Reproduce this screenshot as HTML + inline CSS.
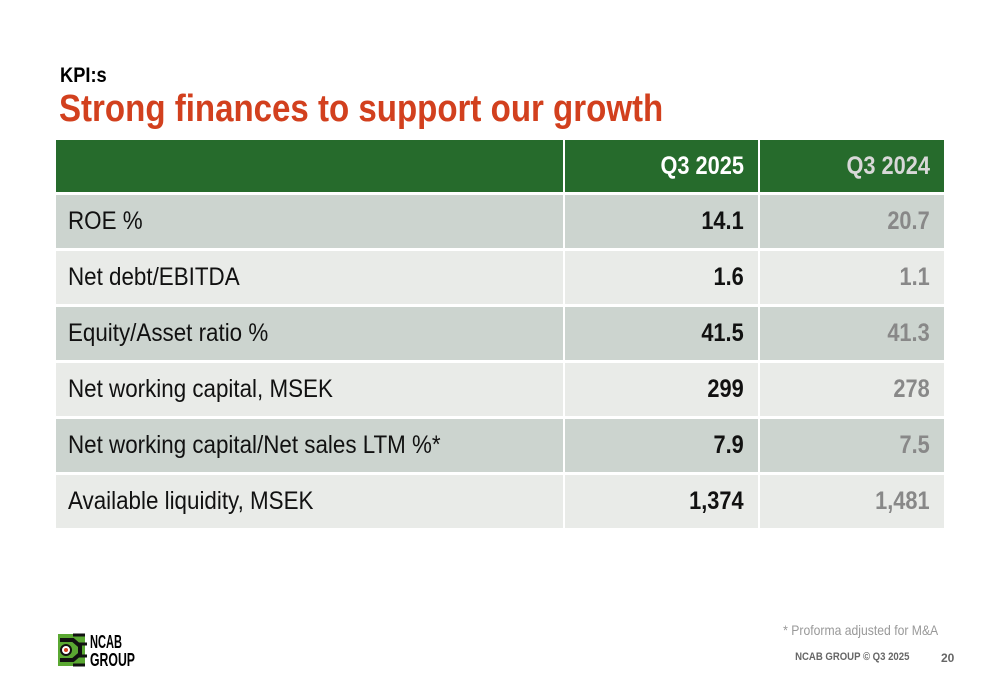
<!DOCTYPE html>
<html><head><meta charset="utf-8"><style>
body{margin:0;width:1000px;height:685px;background:#fff;position:relative;overflow:hidden;font-family:"Liberation Sans",sans-serif}
.a{position:absolute;white-space:nowrap}
.n{display:inline-block;transform:scaleX(.87);transform-origin:left center;white-space:nowrap}
.nl{display:inline-block;transform:scaleX(.895);transform-origin:left center;white-space:nowrap}
.nr{display:inline-block;transform:scaleX(.87);transform-origin:right center;white-space:nowrap}
.c{position:absolute;box-sizing:border-box;font-size:25px;line-height:1}
.l{padding-left:12px;display:flex;align-items:center}
.r{padding-right:14px;display:flex;align-items:center;justify-content:flex-end;font-weight:bold}
</style></head><body>
<div class="a" style="left:60px;top:64px;font-size:21px;font-weight:bold"><span class="n">KPI:s</span></div>
<div class="a" style="left:59px;top:88px;font-size:38px;font-weight:bold;color:#d2401e"><span class="n">Strong finances to support our growth</span></div>
<div id="t"></div>
<div class="a" style="right:62px;top:622px;font-size:14px;color:#999"><span class="nr">* Proforma adjusted for M&amp;A</span></div>
<div class="a" style="right:91px;top:651px;font-size:11px;font-weight:bold;color:#666"><span class="nr">NCAB GROUP © Q3 2025</span></div>
<div class="a" style="left:941px;top:651px;font-size:12px;font-weight:bold;color:#666">20</div>
<svg style="position:absolute;left:55px;top:630px" width="90" height="40">
<rect x="3" y="4" width="27" height="32" fill="#5aa832"/>
<path d="M5 10h13l7 6v8l-7 6H5" fill="none" stroke="#111" stroke-width="4"/>
<path d="M18 5h12M24 14h8M24 26h8M18 35h12" stroke="#111" stroke-width="3"/>
<circle cx="11" cy="20" r="5" fill="#fff" stroke="#111" stroke-width="2"/><circle cx="11" cy="20" r="2" fill="#d2401e"/>
<text x="35" y="18" font-size="18" font-weight="bold" textLength="32" lengthAdjust="spacingAndGlyphs" font-family="Liberation Sans,sans-serif">NCAB</text>
<text x="35" y="36" font-size="18" font-weight="bold" textLength="45" lengthAdjust="spacingAndGlyphs" font-family="Liberation Sans,sans-serif">GROUP</text>
</svg>
<script>
const labels=["ROE %","Net debt/EBITDA","Equity/Asset ratio %","Net working capital, MSEK","Net working capital/Net sales LTM %*","Available liquidity, MSEK"];
const q2025=["14.1","1.6","41.5","299","7.9","1,374"];
const q2024=["20.7","1.1","41.3","278","7.5","1,481"];
const headers=["Q3 2025","Q3 2024"];
const t=document.getElementById('t');
function cell(x,y,w,h,bg,cls,txt,color,name){
 const d=document.createElement('div');d.className='c '+cls;
 
 
 d.style.cssText+=`left:${x}px;top:${y}px;width:${w}px;height:${h}px;background:${bg};color:${color}`;
 const s=document.createElement('span');s.className=cls==='l'?'nl':'nr';s.textContent=txt;d.appendChild(s);
 t.appendChild(d);}
cell(56,140,507,52,'#266b2c','l','','#fff','header-empty');
cell(565,140,193,52,'#266b2c','r',headers[0],'#fff','header-q3-2025');
cell(760,140,184,52,'#266b2c','r',headers[1],'#d8d8d8','header-q3-2024');
labels.forEach((lb,i)=>{
 const y=195+i*56, bg=i%2?'#e9ebe8':'#ccd4cf';
 cell(56,y,507,53,bg,'l',lb,'#111','row-label');
 cell(565,y,193,53,bg,'r',q2025[i],'#111','value-q3-2025');
 cell(760,y,184,53,bg,'r',q2024[i],'#888','value-q3-2024');
});
</script>
</body></html>
